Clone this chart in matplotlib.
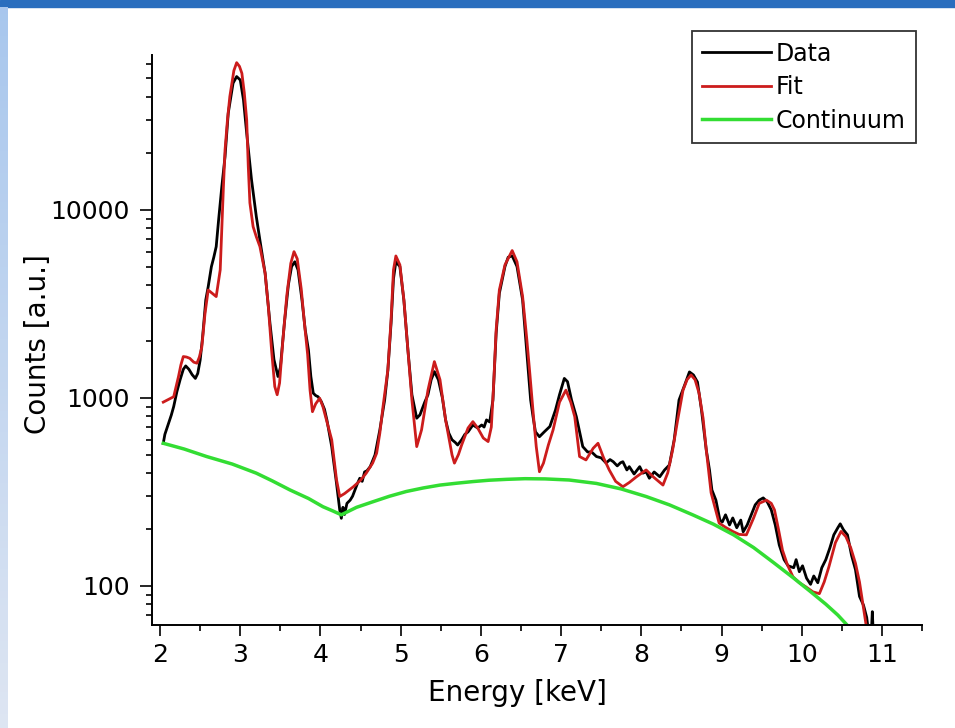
import numpy as np
import matplotlib
matplotlib.use("Agg")
import matplotlib.pyplot as plt
from matplotlib.patches import Rectangle
from matplotlib.ticker import MultipleLocator, FuncFormatter, NullFormatter, LogLocator

# measured spectrum (black)
data_e = [2.04, 2.06, 2.10, 2.14, 2.17, 2.21, 2.25, 2.29, 2.32, 2.36, 2.40, 2.44, 2.47, 2.50,
          2.53, 2.57, 2.60, 2.64, 2.67, 2.70, 2.73, 2.77, 2.81, 2.85, 2.91, 2.955, 3.00, 3.04,
          3.08, 3.14, 3.20, 3.245, 3.31, 3.37, 3.42, 3.47, 3.50, 3.55, 3.60, 3.64, 3.68, 3.72,
          3.77, 3.81, 3.85, 3.88, 3.91, 3.94, 3.97, 4.01, 4.05, 4.08, 4.14, 4.20, 4.24, 4.26,
          4.28, 4.30, 4.33, 4.37, 4.40, 4.43, 4.46, 4.49, 4.52, 4.55, 4.58, 4.62, 4.68, 4.74,
          4.80, 4.84, 4.88, 4.91, 4.94, 4.99, 5.04, 5.09, 5.14, 5.20, 5.24, 5.30, 5.34, 5.38,
          5.42, 5.47, 5.52, 5.56, 5.60, 5.64, 5.68, 5.71, 5.76, 5.80, 5.84, 5.90, 5.96, 6.01,
          6.04, 6.07, 6.11, 6.15, 6.19, 6.23, 6.30, 6.34, 6.39, 6.45, 6.52, 6.58, 6.62, 6.65,
          6.68, 6.73, 6.79, 6.86, 6.93, 6.98, 7.04, 7.08, 7.13, 7.19, 7.23, 7.27, 7.33, 7.38,
          7.44, 7.50, 7.56, 7.61, 7.65, 7.70, 7.74, 7.77, 7.82, 7.85, 7.91, 7.98, 8.02, 8.06,
          8.10, 8.16, 8.23, 8.29, 8.35, 8.41, 8.47, 8.54, 8.60, 8.65, 8.70, 8.75, 8.81, 8.85,
          8.88, 8.93, 8.98, 9.01, 9.05, 9.10, 9.14, 9.19, 9.24, 9.27, 9.32, 9.37, 9.42, 9.47,
          9.52, 9.57, 9.62, 9.67, 9.72, 9.78, 9.83, 9.90, 9.93, 9.97, 10.01, 10.06, 10.11,
          10.15, 10.20, 10.25, 10.30, 10.35, 10.40, 10.45, 10.48, 10.52, 10.57, 10.62, 10.67,
          10.72, 10.77, 10.81, 10.83, 10.87, 10.88, 10.89]
data_c = [574, 640, 720, 810, 900, 1080, 1250, 1420, 1480, 1420, 1330, 1270, 1350, 1590,
          2100, 3320, 3900, 4990, 5600, 6380, 8850, 13300, 19200, 32700, 47200, 51200, 49100, 38500,
          25600, 14500, 9220, 6900, 4600, 2500, 1600, 1300, 1450, 2500, 4000, 5000, 5300, 4800,
          3300, 2300, 1800, 1300, 1060, 1030, 1015, 957, 870, 764, 551, 351, 254, 229,
          262, 240, 275, 286, 300, 324, 350, 374, 360, 404, 410, 431, 498, 676,
          975, 1400, 2500, 4300, 5300, 5000, 3300, 1800, 1040, 780, 813, 950, 1040, 1250,
          1380, 1250, 1000, 764, 650, 599, 580, 562, 599, 640, 660, 718, 692, 718,
          700, 764, 745, 975, 2200, 3600, 5000, 5600, 5700, 5000, 3320, 1590, 976, 795,
          660, 622, 660, 705, 863, 1040, 1270, 1220, 975, 795, 660, 551, 516, 516,
          488, 480, 451, 470, 458, 435, 452, 458, 414, 431, 394, 431, 398, 405,
          374, 404, 381, 414, 440, 599, 975, 1170, 1375, 1325, 1215, 863, 528, 414,
          324, 286, 224, 219, 239, 211, 230, 204, 224, 194, 211, 239, 270, 286,
          294, 280, 254, 211, 165, 138, 128, 125, 138, 119, 128, 110, 102,
          113, 104, 125, 138, 159, 187, 204, 214, 199, 187, 146, 122,
          88, 79, 68, 58, 59, 73, 58]

# fitted spectrum (red)
fit_e = [2.04, 2.10, 2.14, 2.17, 2.20, 2.23, 2.26, 2.29, 2.33, 2.37, 2.42, 2.46, 2.49, 2.52,
         2.56, 2.60, 2.65, 2.70, 2.75, 2.77, 2.79, 2.81, 2.84, 2.87, 2.92, 2.955, 2.99, 3.02,
         3.05, 3.08, 3.10, 3.12, 3.16, 3.20, 3.245, 3.31, 3.35, 3.39, 3.43, 3.46, 3.49, 3.53,
         3.58, 3.63, 3.67, 3.71, 3.76, 3.80, 3.84, 3.87, 3.90, 3.94, 3.99, 4.03, 4.09, 4.14,
         4.20, 4.24, 4.30, 4.41, 4.50, 4.57, 4.65, 4.70, 4.74, 4.78, 4.84, 4.88, 4.91, 4.94,
         4.99, 5.04, 5.09, 5.14, 5.20, 5.26, 5.34, 5.42, 5.49, 5.56, 5.64, 5.67, 5.72, 5.76,
         5.84, 5.90, 5.96, 6.03, 6.09, 6.13, 6.16, 6.19, 6.23, 6.30, 6.39, 6.45, 6.52, 6.57,
         6.61, 6.65, 6.69, 6.73, 6.78, 6.84, 6.90, 6.98, 7.06, 7.12, 7.17, 7.23, 7.31, 7.40,
         7.46, 7.53, 7.60, 7.68, 7.77, 7.85, 7.94, 8.06, 8.15, 8.27, 8.33, 8.39, 8.45, 8.52,
         8.57, 8.62, 8.67, 8.72, 8.77, 8.81, 8.87, 8.97, 9.05, 9.14, 9.22, 9.31, 9.40, 9.47,
         9.56, 9.62, 9.66, 9.71, 9.76, 9.82, 9.89, 9.97, 10.05, 10.14, 10.22, 10.28, 10.34,
         10.42, 10.49, 10.55, 10.61, 10.67, 10.72, 10.76, 10.80, 10.82]
fit_c = [950, 980, 1000, 1015, 1150, 1300, 1500, 1660, 1650, 1625, 1550, 1530, 1650, 1860,
         2800, 3750, 3600, 3460, 4800, 8000, 13300, 20800, 30000, 40100, 55000, 60700, 58000, 53300,
         42000, 30100, 17000, 10900, 8150, 7200, 6380, 4600, 3060, 1800, 1150, 1040, 1200, 2000,
         3500, 5200, 6000, 5500, 3800, 2500, 1700, 1100, 845, 930, 996, 900, 720, 599,
         367, 299, 310, 337, 365, 398, 450, 508, 650, 900, 1410, 2600, 4790, 5690,
         5100, 3320, 1800, 975, 551, 676, 1100, 1560, 1250, 764, 498, 450, 500, 562,
         692, 748, 692, 612, 586, 700, 1200, 2300, 3750, 5100, 6080, 5300, 3460, 2100,
         1350, 850, 551, 405, 450, 560, 676, 950, 1100, 950, 795, 488, 468, 540,
         574, 480, 414, 360, 337, 355, 381, 414, 380, 344, 400, 528, 750, 1100,
         1250, 1325, 1250, 1060, 780, 528, 313, 216, 205, 195, 188, 187, 230, 275,
         286, 275, 254, 200, 155, 130, 112, 104, 99, 93, 91, 105, 127,
         170, 195, 183, 160, 132, 105, 81, 63, 56]

# continuum (green)
cont_e = [2.04, 2.30, 2.58, 2.90, 3.20, 3.40, 3.62, 3.85, 4.03, 4.15, 4.26, 4.45, 4.66, 4.86,
          5.07, 5.28, 5.49, 5.70, 5.90, 6.10, 6.32, 6.55, 6.80, 7.10, 7.44, 7.75, 8.06, 8.35,
          8.64, 8.90, 9.15, 9.40, 9.65, 9.90, 10.10, 10.30, 10.45, 10.58]
cont_c = [574, 535, 488, 445, 398, 362, 324, 292, 264, 251, 239, 262, 281, 300,
          318, 332, 344, 352, 359, 365, 369, 372, 371, 366, 351, 328, 299, 270,
          239, 213, 187, 160, 133, 110, 94, 80, 70, 61]

plt.rcParams['font.family'] = ['DejaVu Sans']

fig = plt.figure(figsize=(9.55, 7.28), dpi=100)

# slide decorations: blue bar on top, pale strip on the left
fig.add_artist(Rectangle((0, 1 - 7 / 728), 1, 7 / 728, transform=fig.transFigure,
                         color='#2a6ebe', zorder=0))
gax = fig.add_axes([0, 0, 7 / 955, 1 - 7 / 728])
top_col = np.array([0.66, 0.78, 0.93])
bot_col = np.array([0.87, 0.90, 0.95])
t = np.linspace(0, 1, 100)[:, None]
grad = (top_col * (1 - t) + bot_col * t)[:, None, :]
gax.imshow(grad, aspect='auto')
gax.axis('off')

ax = fig.add_axes([0.1592, 0.1415, 0.8063, 0.783])
ax.plot(data_e, data_c, color='black', lw=2.0, label='Data')
ax.plot(fit_e, fit_c, color='#cc1c1c', lw=2.0, label='Fit')
ax.plot(cont_e, cont_c, color='#33dd33', lw=2.5, label='Continuum')

ax.set_yscale('log')
ax.set_xlim(1.9, 11.5)
ax.set_ylim(62, 66700)

ax.xaxis.set_major_locator(MultipleLocator(1))
ax.xaxis.set_minor_locator(MultipleLocator(0.5))
ax.yaxis.set_major_locator(LogLocator(base=10, numticks=10))
ax.yaxis.set_minor_locator(LogLocator(base=10, subs=np.arange(2, 10), numticks=20))
ax.yaxis.set_major_formatter(FuncFormatter(lambda v, p: f"{v:.0f}"))
ax.yaxis.set_minor_formatter(NullFormatter())

for s in ['top', 'right']:
    ax.spines[s].set_visible(False)
for s in ['left', 'bottom']:
    ax.spines[s].set_linewidth(1.4)

ax.tick_params(axis='x', which='major', direction='out', length=8, width=1.2,
               labelsize=18, pad=5)
ax.tick_params(axis='x', which='minor', direction='out', length=4.5, width=1.2)
ax.tick_params(axis='y', which='major', direction='out', length=9, width=1.2,
               labelsize=18, pad=7)
ax.tick_params(axis='y', which='minor', direction='out', length=4.5, width=1.2)

ax.set_xlabel('Energy [keV]', fontsize=20)
ax.set_ylabel('Counts [a.u.]', fontsize=20)
ax.xaxis.set_label_coords(0.474, -0.095)
ax.yaxis.set_label_coords(-0.13, 0.493)

leg = ax.legend(loc='upper right', bbox_to_anchor=(916 / 955, 1 - 31 / 728),
                bbox_transform=fig.transFigure, fontsize=17, frameon=True,
                fancybox=False, edgecolor='black', handlelength=2.9,
                handletextpad=0.2, labelspacing=0.4, borderpad=0.45,
                borderaxespad=0)
leg.get_frame().set_linewidth(1.3)

fig.savefig('out.png', dpi=100)
